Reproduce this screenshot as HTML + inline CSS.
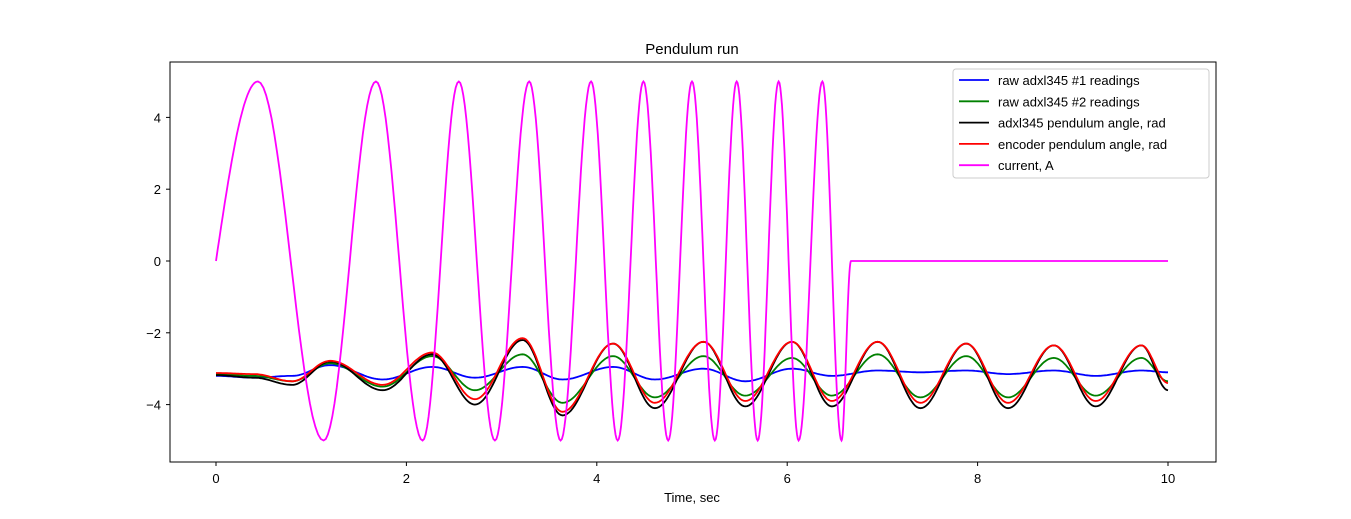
<!DOCTYPE html>
<html><head><meta charset="utf-8"><style>
body{margin:0;background:#fff;}
svg{display:block;font-family:"Liberation Sans",sans-serif;}
</style></head><body>
<svg id="chart" width="1351" height="519">
<rect width="1351" height="519" fill="#fff"/>
<text x="692" y="54" text-anchor="middle" font-size="15">Pendulum run</text>
<g id="series"></g>
<rect x="170" y="62" width="1046" height="400" fill="none" stroke="#000" stroke-width="1"/>
<g id="ticks"></g>
<text x="692" y="502" text-anchor="middle" font-size="13">Time, sec</text>
<g>
<rect x="953" y="69" width="256" height="109" fill="#fff" fill-opacity="0.8" stroke="#ccc" rx="3"/>
<g id="legend"></g>
</g>
</svg>
<script>
const xTicks=[0,2,4,6,8,10];
const yTicks=[-4,-2,0,2,4];
const curT=[0,0.44,1.13,1.68,2.17,2.55,2.93,3.29,3.62,3.94,4.22,4.49,4.75,5.0,5.24,5.47,5.69,5.91,6.12,6.37,6.57,6.67,10];
const curV=[0,5,-5,5,-5,5,-5,5,-5,5,-5,5,-5,5,-5,5,-5,5,-5,5,-5,0,0];
const penT=[0,0.4,0.8,1.2,1.75,2.27,2.72,3.22,3.64,4.17,4.61,5.12,5.56,6.05,6.47,6.95,7.4,7.88,8.32,8.8,9.24,9.72,10];
const redV=[-3.12,-3.15,-3.35,-2.78,-3.45,-2.55,-3.85,-2.15,-4.2,-2.3,-3.95,-2.25,-3.9,-2.25,-3.9,-2.25,-3.95,-2.3,-3.95,-2.35,-3.9,-2.35,-3.4];
const blackV=[-3.18,-3.25,-3.45,-2.8,-3.6,-2.6,-4.0,-2.2,-4.3,-2.3,-4.1,-2.25,-4.05,-2.25,-4.05,-2.25,-4.1,-2.3,-4.1,-2.35,-4.05,-2.35,-3.6];
const greenV=[-3.15,-3.2,-3.35,-2.85,-3.5,-2.65,-3.6,-2.6,-3.95,-2.65,-3.8,-2.65,-3.75,-2.7,-3.75,-2.6,-3.8,-2.65,-3.8,-2.7,-3.75,-2.7,-3.35];
const blueV=[-3.2,-3.25,-3.2,-2.9,-3.3,-2.95,-3.25,-2.95,-3.3,-2.95,-3.3,-3.0,-3.35,-3.0,-3.2,-3.05,-3.1,-3.05,-3.15,-3.05,-3.2,-3.05,-3.1];
const names=["raw adxl345 #1 readings","raw adxl345 #2 readings","adxl345 pendulum angle, rad","encoder pendulum angle, rad","current, A"];
const colors=["#0000ff","#008000","#000000","#ff0000","#ff00ff"];

const X=t=>216+t*95.2, Y=v=>261-v*35.9;
const NS="http://www.w3.org/2000/svg";
function path(ts,vs,color,name,sineStart){
  let d="";
  for(let i=0;i<ts.length-1;i++){
    const n=24;
    for(let k=(i?1:0);k<=n;k++){
      const f=k/n;
      const w=(sineStart&&i===0)?Math.sin(Math.PI/2*f):(1-Math.cos(Math.PI*f))/2;
      const t=ts[i]+(ts[i+1]-ts[i])*f, v=vs[i]+(vs[i+1]-vs[i])*w;
      d+=(d?"L":"M")+X(t).toFixed(1)+","+Y(v).toFixed(1);
    }
  }
  const p=document.createElementNS(NS,"path");
  p.setAttribute("d",d);p.setAttribute("fill","none");p.setAttribute("stroke",color);p.setAttribute("stroke-width","1.8");
  
  
  document.getElementById("series").appendChild(p);
}
path(penT,blueV,colors[0],"series-raw-adxl1",false);
path(penT,greenV,colors[1],"series-raw-adxl2",false);
path(penT,blackV,colors[2],"series-adxl-angle",false);
path(penT,redV,colors[3],"series-encoder-angle",false);
path(curT,curV,colors[4],"series-current",true);

const tg=document.getElementById("ticks");
function add(parent,tag,attrs,text){const e=document.createElementNS(NS,tag);for(const k in attrs)e.setAttribute(k,attrs[k]);if(text!=null)e.textContent=text;parent.appendChild(e);return e;}
xTicks.forEach(t=>{
  const l=add(tg,"line",{x1:X(t),x2:X(t),y1:462,y2:466,stroke:"#000"});
  
  
  const s=add(tg,"text",{x:X(t),y:483,"text-anchor":"middle","font-size":"13"},String(t));
  
  
});
yTicks.forEach(v=>{
  const l=add(tg,"line",{x1:166,x2:170,y1:Y(v),y2:Y(v),stroke:"#000"});
  
  
  const s=add(tg,"text",{x:161,y:Y(v)+5,"text-anchor":"end","font-size":"13"},(v<0?"\u2212"+(-v):String(v)));
  
  
});
const lg=document.getElementById("legend");
names.forEach((n,i)=>{
  const y=80+i*21.3;
  const l=add(lg,"line",{x1:959,x2:989,y1:y,y2:y,stroke:colors[i],"stroke-width":"1.8"});
  
  
  const s=add(lg,"text",{x:998,y:y+5,"font-size":"13"},n);
  
  
});
</script>
</body></html>
